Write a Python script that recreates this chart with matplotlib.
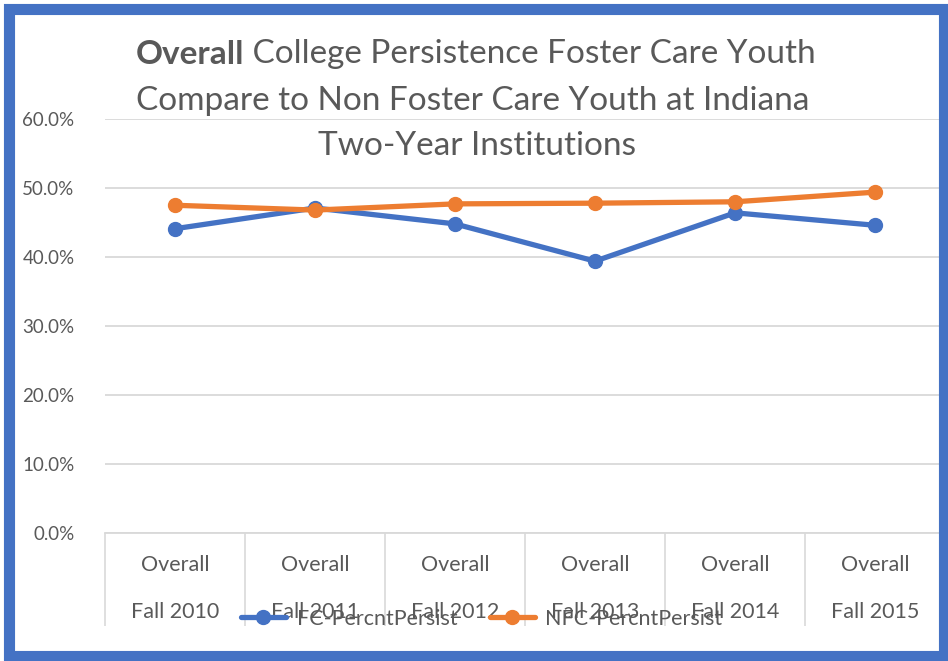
import numpy as np
import matplotlib.pyplot as plt
from matplotlib.patches import Rectangle

plt.rcParams['font.family'] = ['Lato', 'DejaVu Sans']

years = ['Fall 2010', 'Fall 2011', 'Fall 2012', 'Fall 2013', 'Fall 2014', 'Fall 2015']
fc_persist = [0.441, 0.471, 0.448, 0.394, 0.464, 0.446]
nfc_persist = [0.475, 0.468, 0.477, 0.478, 0.480, 0.494]
yticks = [0.0, 0.1, 0.2, 0.3, 0.4, 0.5, 0.6]

blue = '#4472C4'
orange = '#ED7D31'
grey = '#595959'
grid = '#D9D9D9'

fig = plt.figure(figsize=(9.48, 6.61), dpi=100)
W, H = 948, 661
ax = fig.add_axes([105 / W, 1 - 533 / H, 840 / W, (533 - 119) / H])

x = np.arange(len(years))
ax.plot(x, fc_persist, color=blue, lw=3.8, marker='o', ms=10, label='FC-PercntPersist',
        solid_capstyle='round', zorder=3)
ax.plot(x, nfc_persist, color=orange, lw=3.8, marker='o', ms=10, label='NFC-PercntPersist',
        solid_capstyle='round', zorder=4)

ax.set_xlim(-0.5, len(years) - 0.5)
ax.set_ylim(0, 0.6)
ax.set_yticks(yticks)
ax.set_yticklabels(['{:.1f}%'.format(v * 100) for v in yticks])
ax.yaxis.grid(True, color=grid, lw=1.3)
ax.set_axisbelow(True)

ax.set_xticks(x)
ax.set_xticklabels(['Overall\n\n' + y for y in years], linespacing=1.22)
ax.set_xticks(np.arange(-0.5, len(years)), minor=True)
ax.tick_params(axis='x', which='major', length=0, pad=15.5, labelsize=15.5, labelcolor=grey)
ax.tick_params(axis='x', which='minor', length=67, width=1.2, color=grid)
ax.tick_params(axis='y', length=0, pad=22, labelsize=13.5, labelcolor=grey)

for s in ['top', 'right', 'left']:
    ax.spines[s].set_visible(False)
ax.spines['bottom'].set_color(grid)
ax.spines['bottom'].set_linewidth(1.3)

# title, first word in bold
tsize = 24
t1 = fig.text(136 / W, 1 - 54 / H, 'Overall', fontsize=tsize, fontweight='bold', color=grey,
              va='center', ha='left')
fig.canvas.draw()
bb = t1.get_window_extent()
fig.text(bb.x1 / W, 1 - 54 / H, ' College Persistence Foster Care Youth', fontsize=tsize,
         color=grey, va='center', ha='left')
fig.text(136 / W, 1 - 101 / H, 'Compare to Non Foster Care Youth at Indiana', fontsize=tsize,
         color=grey, va='center', ha='left')
fig.text(477 / W, 1 - 146 / H, 'Two-Year Institutions', fontsize=tsize,
         color=grey, va='center', ha='center')

fig.legend(loc='center left', bbox_to_anchor=(232 / W, 1 - 619 / H), ncol=2, frameon=False,
           fontsize=15.5, labelcolor=grey, handlelength=2.1, handletextpad=0.5,
           columnspacing=1.5, borderaxespad=0)

fig.patches.append(Rectangle((8.5 / W, 5 / H), 935 / W, 647.5 / H, transform=fig.transFigure,
                             fill=False, edgecolor=blue, lw=8, figure=fig))

fig.savefig('out.png', dpi=100)
